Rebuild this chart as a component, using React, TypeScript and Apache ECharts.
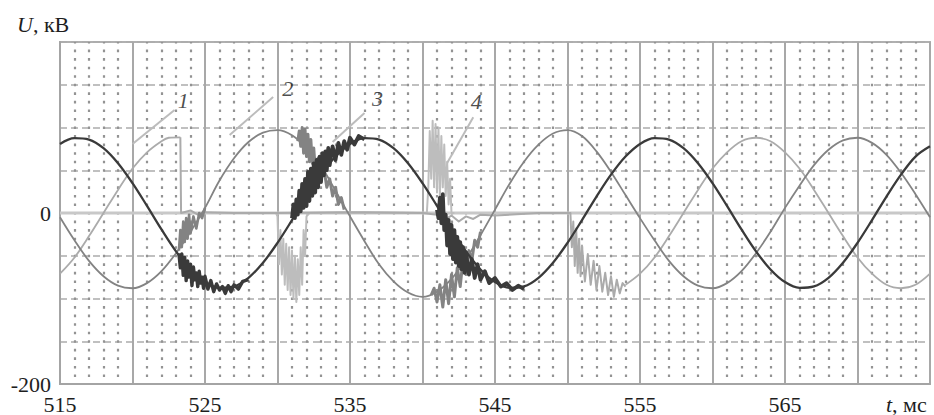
import React, { useEffect, useRef } from "react";
import * as echarts from "echarts";

// ---- axis ranges / labels ----
const T_MIN = 515;
const T_MAX = 575;
const U_MIN = -200;
const U_MAX = 200;
const X_LABELS = [515, 525, 535, 545, 555, 565];
const Y_LABELS = [-200, 0];

// ---- curve 3 (dark), read every 1 ms from 515 to 575 ----
const curve3 = [
  80.8, 87.6, 85.9, 75.8, 58.2, 34.9, 8.3, -19.2, -44.8, -66.0,
  -80.8, -87.6, -85.9, -75.8, -58.2, -34.9, -8.3, 19.2, 44.8, 66.0,
  80.8, 87.6, 85.9, 75.8, 58.2, 34.9, 8.3, -19.2, -44.8, -66.0,
  -80.8, -87.6, -85.9, -75.8, -58.2, -34.9, -8.3, 19.2, 44.8, 66.0,
  80.8, 87.6, 85.9, 75.8, 58.2, 34.9, 8.3, -19.2, -44.8, -66.0,
  -80.8, -87.6, -85.9, -75.8, -58.2, -34.9, -8.3, 19.2, 44.8, 66.0,
  78.0,
];

// ---- curve 2 (medium), read every 1 ms from 515 to 575 ----
const curve2 = [
  -5, -32, -56, -74, -85, -88, -82, -68, -47, -22,
  6, 38, 64, 83, 94, 97, 91, 76, 55, 26,
  -4, -33, -60, -80, -93, -98, -92, -77, -54, -26,
  4, 34, 60, 80, 93, 97, 90, 72, 48, 21,
  -6, -32, -56, -74, -85, -88, -82, -68, -47, -22,
  6, 32, 56, 74, 85, 88, 82, 68, 47, 22,
  -5,
];

// ---- curve 1 (light): before the fault, switched-off part, after reclosing ----
const curve1Before = [
  [515, -71], [516, -52], [517, -27], [518, 0], [519, 27], [520, 52],
  [521, 71], [522, 84], [522.5, 88], [523.3, 88.5],
];
const curve1Off = [
  [523.3, 88.5], [523.35, 0], [524, 3], [524.5, -2], [525, 1], [527, 0],
  [530, 0], [535, 1], [540, 0], [541, -2], [541.5, -8], [542, -3],
  [542.5, -10], [543, -4], [543.5, -7], [544, -2], [545, -3], [548, 0],
  [550.2, 0], [550.3, -40], [550.4, -10], [550.5, -62], [550.6, -18],
  [550.7, -70], [550.8, -30], [550.9, -74], [551.0, -38], [551.2, -80],
  [551.4, -48], [551.6, -84], [551.8, -56], [552.0, -90], [552.2, -62],
  [552.4, -92], [552.6, -70], [552.8, -96], [553.0, -74], [553.2, -98],
  [553.4, -78], [553.6, -94], [553.8, -82], [554.0, -86],
];
const curve1After = [
  [554, -84], [555, -71], [556, -52], [557, -27], [558, 0], [559, 27],
  [560, 52], [561, 71], [562, 84], [563, 88], [564, 84], [565, 71],
  [566, 52], [567, 27], [568, 0], [569, -27], [570, -52], [571, -71],
  [572, -84], [573, -88], [574, -84], [575, -71],
];

// ---- curve 4 (lightest): transients near zero ----
const curve4 = [
  [529.9, 0], [530.0, -4], [530.1, -60], [530.2, -20], [530.3, -72],
  [530.4, -30], [530.5, -84], [530.6, -36], [530.7, -90], [530.8, -40],
  [530.9, -96], [531.0, -44], [531.1, -100], [531.2, -50], [531.3, -104],
  [531.4, -54], [531.5, -96], [531.6, -40], [531.7, -84], [531.8, -20],
  [531.9, -50], [532.0, -4], [532.2, 0], [536, 1], [540.3, 0],
  [540.4, 30], [540.5, 96], [540.6, 40], [540.7, 108], [540.8, 30],
  [540.9, 104], [541.0, 24], [541.1, 100], [541.2, 20], [541.3, 90],
  [541.4, 30], [541.5, 80], [541.6, 20], [541.7, 60], [541.8, 10],
  [541.9, 40], [542.0, 0], [542.2, 0],
];

// ---- noise bursts on curve 3 ----
const c3NoiseA = [
  [523.2, -47], [523.3, -64], [523.4, -48], [523.5, -73], [523.6, -52],
  [523.7, -79], [523.8, -56], [523.9, -75], [524.0, -60], [524.1, -85],
  [524.2, -63], [524.3, -78], [524.4, -70], [524.5, -86], [524.6, -68],
  [524.7, -82], [524.8, -75], [524.9, -88], [525.0, -74], [525.2, -89],
  [525.4, -79], [525.6, -92], [525.8, -83], [526.0, -90], [526.2, -86],
  [526.4, -94], [526.6, -85], [526.8, -92], [527.0, -84], [527.3, -89],
  [527.6, -80], [528.0, -78],
];
const c3NoiseB = [
  [531.0, -6], [531.1, 10], [531.2, -6], [531.3, 16], [531.4, -2],
  [531.5, 26], [531.6, 2], [531.7, 34], [531.8, 6], [531.9, 40],
  [532.0, 8], [532.1, 48], [532.2, 14], [532.3, 52], [532.4, 20],
  [532.5, 58], [532.6, 24], [532.7, 62], [532.8, 30], [532.9, 66],
  [533.0, 36], [533.1, 70], [533.2, 44], [533.3, 72], [533.4, 50],
  [533.5, 76], [533.6, 56], [533.8, 78], [534.0, 62], [534.2, 82],
  [534.4, 68], [534.6, 84], [534.8, 74], [535.0, 88], [535.3, 80],
  [535.6, 90], [536.0, 86],
];
const c3NoiseC = [
  [541.0, 4], [541.1, -6], [541.2, 18], [541.3, -12], [541.4, 22],
  [541.5, -20], [541.6, -2], [541.7, -38], [541.8, -8], [541.9, -48],
  [542.0, -14], [542.1, -54], [542.2, -20], [542.3, -58], [542.4, -28],
  [542.5, -62], [542.6, -34], [542.7, -66], [542.8, -40], [542.9, -70],
  [543.0, -46], [543.2, -72], [543.4, -54], [543.6, -76], [543.8, -60],
  [544.0, -78], [544.3, -68], [544.6, -82], [545.0, -76], [545.4, -86],
  [545.8, -82], [546.2, -90], [546.6, -85], [547.0, -89],
];

// ---- noise bursts on curve 2 ----
const c2NoiseA = [
  [523.2, -44], [523.3, -20], [523.4, -40], [523.5, -10], [523.6, -34],
  [523.7, -6], [523.8, -30], [523.9, -2], [524.0, -24], [524.2, -4],
  [524.4, -18], [524.6, 0], [524.8, -6], [525.0, 6],
];
const c2NoiseB = [
  [531.4, 84], [531.5, 96], [531.6, 78], [531.7, 100], [531.8, 70],
  [531.9, 98], [532.0, 66], [532.1, 92], [532.2, 60], [532.3, 86],
  [532.4, 58], [532.5, 76], [532.6, 52], [532.8, 64], [533.0, 40],
  [533.2, 52], [533.4, 30], [533.6, 40], [533.8, 20], [534.0, 30],
  [534.2, 10], [534.4, 18], [534.6, 4],
];
const c2NoiseC = [
  [540.6, -96], [540.8, -88], [541.0, -104], [541.2, -84], [541.4, -110],
  [541.6, -78], [541.8, -106], [542.0, -72], [542.2, -98], [542.4, -64],
  [542.6, -86], [542.8, -54], [543.0, -72], [543.2, -44], [543.4, -56],
  [543.6, -32], [543.8, -40], [544.0, -22],
];

// ---- curve number labels and their leader lines ----
const curveTags = [
  [523.5, 132, "1"],
  [530.7, 146, "2"],
  [536.9, 134.5, "3"],
  [543.7, 130, "4"],
];
const leaders = [
  [[522.9, 120.5], [520.0, 80.7]],
  [[529.7, 135.7], [526.7, 91.2]],
  [[536.0, 117], [533.8, 83]],
  [[543.5, 112], [541.7, 58.5]],
];
const zeroRef = [[T_MIN, 0], [T_MAX, 0]];

const FONT = "Liberation Serif";
const TEXT = "#1e1e1e";
const DARK = "#3a3a3a";
const MED = "#838383";
const LIGHT = "#ababab";
const LIGHTEST = "#bdbdbd";

function everyMs(values: number[]) {
  return values.map((u, i) => [T_MIN + i, u]);
}

function lineSeries(data: any[], color: string, width: number, smooth: boolean, z: number) {
  return {
    type: "line",
    data,
    smooth: smooth ? 0.35 : false,
    showSymbol: false,
    symbol: "none",
    silent: true,
    z,
    lineStyle: { color, width, join: "round" },
  };
}

export default function App() {
  const ref = useRef<HTMLDivElement | null>(null);

  useEffect(() => {
    if (!ref.current) return;
    const chart = echarts.init(ref.current, undefined, { renderer: "svg" });
    const option: any = {
      animation: false,
      backgroundColor: "#ffffff",
      textStyle: { fontFamily: FONT },
      grid: {
        left: 60,
        right: 4,
        top: 42,
        bottom: 31,
        show: true,
        borderColor: "#b0b0b0",
        borderWidth: 2,
        backgroundColor: "transparent",
      },
      xAxis: {
        type: "value",
        min: T_MIN,
        max: T_MAX,
        interval: 5,
        axisLine: { show: true, onZero: false, lineStyle: { color: "#a4a4a4", width: 2 } },
        axisTick: { show: false },
        axisLabel: {
          interval: 0,
          margin: 9,
          fontFamily: FONT,
          fontSize: 22,
          color: TEXT,
          formatter: (v: number) => (X_LABELS.includes(v) ? String(v) : ""),
        },
        splitLine: { show: true, lineStyle: { color: "#a8a8a8", width: 2 } },
        minorTick: { show: false, splitNumber: 5 },
        minorSplitLine: {
          show: true,
          lineStyle: { color: "#939393", width: 2.2, type: [2.6, 5.95], dashOffset: 1.3 },
        },
      },
      yAxis: {
        type: "value",
        min: U_MIN,
        max: U_MAX,
        interval: 50,
        axisLine: { show: true, onZero: false, lineStyle: { color: "#a4a4a4", width: 2 } },
        axisTick: { show: false },
        axisLabel: {
          interval: 0,
          margin: 9,
          fontFamily: FONT,
          fontSize: 22,
          color: TEXT,
          formatter: (v: number) => (Y_LABELS.includes(v) ? String(v) : ""),
        },
        splitLine: { show: true, lineStyle: { color: "#acacac", width: 1.6, type: [7, 4] } },
      },
      series: [
        lineSeries(zeroRef, "#c8c8c8", 3, false, 1),
        lineSeries(curve4, LIGHTEST, 2, false, 2),
        lineSeries(curve1Before, LIGHT, 1.8, true, 3),
        lineSeries(curve1Off, LIGHT, 2, false, 3),
        lineSeries(curve1After, LIGHT, 1.8, true, 3),
        lineSeries(everyMs(curve2), MED, 1.8, true, 4),
        lineSeries(c2NoiseA, MED, 2.6, false, 4),
        lineSeries(c2NoiseB, MED, 3, false, 4),
        lineSeries(c2NoiseC, MED, 3, false, 4),
        lineSeries(everyMs(curve3), DARK, 2.3, true, 5),
        lineSeries(c3NoiseA, DARK, 3.4, false, 5),
        lineSeries(c3NoiseB, DARK, 3.8, false, 5),
        lineSeries(c3NoiseC, DARK, 3.8, false, 5),
        {
          type: "lines",
          coordinateSystem: "cartesian2d",
          silent: true,
          z: 6,
          lineStyle: { color: "#bcbcbc", width: 2, opacity: 1 },
          data: leaders.map((c) => ({ coords: c })),
        },
        {
          type: "scatter",
          silent: true,
          z: 7,
          symbolSize: 1,
          itemStyle: { color: "rgba(0,0,0,0)" },
          data: curveTags,
          label: {
            show: true,
            position: "inside",
            formatter: (p: any) => p.value[2],
            fontFamily: FONT,
            fontStyle: "italic",
            fontSize: 22,
            color: TEXT,
          },
        },
      ],
      graphic: [
        {
          type: "text",
          left: 17,
          top: 13,
          style: {
            text: "{i|U}{n|, кВ}",
            fontFamily: FONT,
            fontSize: 22,
            fill: TEXT,
            rich: {
              i: { fontStyle: "italic", fontSize: 22, fontFamily: FONT, fill: TEXT },
              n: { fontSize: 22, fontFamily: FONT, fill: TEXT },
            },
          },
        },
        {
          type: "text",
          left: 886,
          top: 393,
          style: {
            text: "{i|t}{n|, мс}",
            fontFamily: FONT,
            fontSize: 22,
            fill: TEXT,
            rich: {
              i: { fontStyle: "italic", fontSize: 22, fontFamily: FONT, fill: TEXT },
              n: { fontSize: 22, fontFamily: FONT, fill: TEXT },
            },
          },
        },
      ],
    };
    chart.setOption(option);
    return () => chart.dispose();
  }, []);

  return <div ref={ref} style={{ width: 934, height: 415, position: "absolute", left: 0, top: 0 }} />;
}
